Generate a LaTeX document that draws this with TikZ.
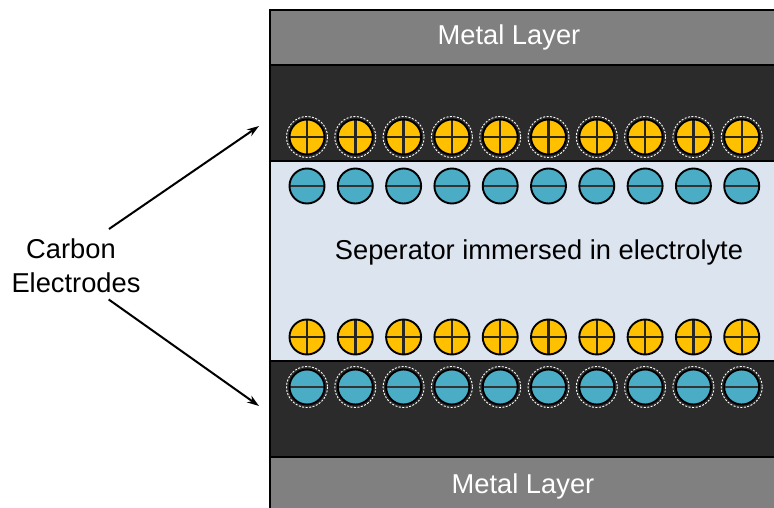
\documentclass[tikz,border=0pt]{standalone}
\usepackage{fontspec}
\setmainfont{Liberation Sans}
\usetikzlibrary{arrows.meta}
\definecolor{metalgrey}{HTML}{808080}
\definecolor{carbondark}{HTML}{2B2B2B}
\definecolor{sepblue}{HTML}{DCE4F0}
\definecolor{ionyellow}{HTML}{FFC000}
\definecolor{ionblue}{HTML}{4BACC6}

\begin{document}
\begin{tikzpicture}
[x=1pt,y=-1pt,%
  slab/.style={draw=black,line width=2.6pt},%
  bigtext/.style={font=\fontsize{27.3}{34}\selectfont,inner sep=0pt},%
  cation/.style={shape=circle,minimum size=35pt,inner sep=0pt,draw=black,line width=1.9pt,fill=ionyellow,%
    path picture={\draw[line width=2.4pt,black!85]
      (path picture bounding box.north) -- (path picture bounding box.south)
      (path picture bounding box.west) -- (path picture bounding box.east);}},%
  anion/.style={shape=circle,minimum size=35pt,inner sep=0pt,draw=black,line width=1.9pt,fill=ionblue,%
    path picture={\draw[line width=2.4pt,black!80]
      (path picture bounding box.west) -- (path picture bounding box.east);}},%
  halo/.style={draw=white,line width=0.9pt,dash pattern=on 2pt off 1.5pt}]
\useasboundingbox (0,0) rectangle (774,508);
\clip (0,0) rectangle (774,508);
% layers
\fill[metalgrey] (270,10) rectangle (800,65);
\fill[carbondark] (270,65) rectangle (800,161);
\fill[sepblue] (270,161) rectangle (800,361);
\fill[carbondark] (270,361) rectangle (800,457);
\fill[metalgrey] (270,457) rectangle (800,520);
\draw[slab] (800,10) -- (270,10) -- (270,520);
\draw[slab] (270,65) -- (800,65);
\draw[slab] (270,161) -- (800,161);
\draw[slab] (270,361) -- (800,361);
\draw[slab] (270,457) -- (800,457);
% ions
\foreach \i in {0,...,9} {
  \node[cation] (ca\i) at (307+48.3*\i,137) {};
  \draw[halo] (ca\i) circle (20.5);
  \node[anion] (an\i) at (307+48.3*\i,186) {};
  \node[cation] (cb\i) at (307+48.3*\i,337) {};
  \node[anion] (ab\i) at (307+48.3*\i,387) {};
  \draw[halo] (ab\i) circle (20.5);
}
% texts
\node[bigtext,anchor=base,white] (metaltop) at (509,45) {Metal Layer};
\node[bigtext,anchor=base,white] (metalbot) at (523,493) {Metal Layer};
\node[bigtext,anchor=base] (sep) at (539,259) {Seperator immersed in electrolyte};
\node[bigtext,anchor=base] (carbon) at (71,258) {Carbon};
\node[bigtext,anchor=base] (electrodes) at (76,292) {Electrodes};
% arrows
\coordinate (topend) at (259,126);
\coordinate (botend) at (259,406);
\draw[line width=2pt,-{Stealth[length=12pt,width=8pt]}] ([shift={(-7,-9)}]carbon.north east) -- (topend);
\draw[line width=2pt,-{Stealth[length=12pt,width=8pt]}] ([shift={(-32,7)}]electrodes.south east) -- (botend);
\end{tikzpicture}
\end{document}
